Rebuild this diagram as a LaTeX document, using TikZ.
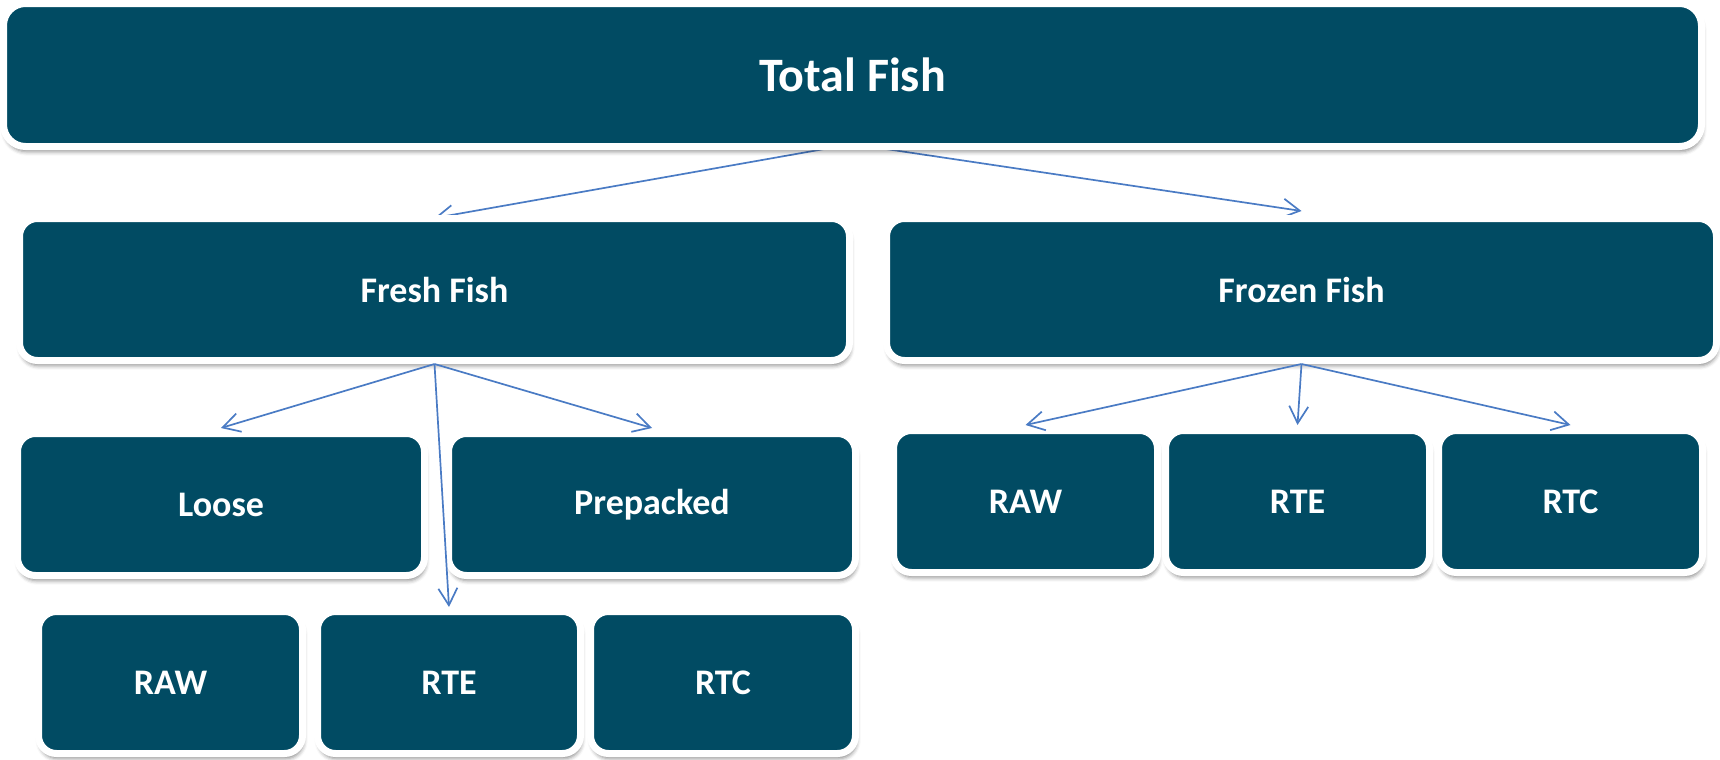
\documentclass[tikz,border=0pt]{standalone}
\usepackage{fontspec}
\setmainfont{Carlito}
\usetikzlibrary{arrows.meta,shadows.blur}
\pgfdeclarelayer{behind}
\pgfsetlayers{behind,main}
\definecolor{boxteal}{HTML}{014B63}
\definecolor{linkblue}{HTML}{4A7BC4}
\tikzset{
  fishbox/.style={rounded corners=9pt, fill=boxteal, draw=white, line width=3.5pt,
    text=white, font=\bfseries\fontsize{18}{22}\selectfont, inner sep=0pt,
    minimum height=71pt,
    blur shadow={shadow xshift=0.6pt, shadow yshift=-2.6pt,
      shadow blur radius=2pt, shadow opacity=45}},
  link/.style={draw=linkblue, line width=0.85pt,
    -{Straight Barb[length=8.5pt,width=9.5pt]}}
}
\begin{document}
\begin{tikzpicture}[x=0.5pt,y=-0.5pt]
\useasboundingbox (0,0) rectangle (1720,760);

% top level
\node[fishbox, rounded corners=11pt, minimum width=849pt, minimum height=71.5pt,
  font=\bfseries\fontsize{24}{29}\selectfont] (total) at (852.5,75) {Total Fish};

% second level
\node[fishbox, minimum width=415pt] (fresh)  at (434.5,289.5) {Fresh Fish};
\node[fishbox, minimum width=415pt] (frozen) at (1301.5,289.5) {Frozen Fish};

% fresh fish: packaging
\node[fishbox, minimum width=203.5pt] (loose)     at (221,504.5) {Loose};
\node[fishbox, minimum width=203.5pt] (prepacked) at (652,504.5) {Prepacked};

% fresh fish: preparation
\node[fishbox, minimum width=132pt]   (freshraw) at (170.5,682.5) {RAW};
\node[fishbox, minimum width=131.5pt] (freshrte) at (449,682.5)   {RTE};
\node[fishbox, minimum width=132.5pt] (freshrtc) at (723,682.5)   {RTC};

% frozen fish: preparation
\node[fishbox, minimum width=132pt] (frozenraw) at (1025.5,501.5) {RAW};
\node[fishbox, minimum width=132pt] (frozenrte) at (1297.5,501.5) {RTE};
\node[fishbox, minimum width=132pt] (frozenrtc) at (1570.5,501.5) {RTC};

% connectors leaving the top box run under the boxes and their shadows
\begin{pgfonlayer}{behind}
\draw[link] ([yshift=3pt]total.south) -- ([yshift=-1.5pt]fresh.north);
\draw[link] ([yshift=3pt]total.south) -- ([yshift=2pt]frozen.north);
\end{pgfonlayer}

\draw[link] (fresh.south) -- ([yshift=1pt]loose.north);
\draw[link] (fresh.south) -- ([yshift=1pt]prepacked.north);
\draw[link] (fresh.south) -- ([yshift=0.5pt]freshrte.north);

\draw[link] (frozen.south) -- ([yshift=1pt]frozenraw.north);
\draw[link] (frozen.south) -- ([yshift=1pt]frozenrte.north);
\draw[link] (frozen.south) -- ([yshift=1pt]frozenrtc.north);
\end{tikzpicture}
\end{document}
